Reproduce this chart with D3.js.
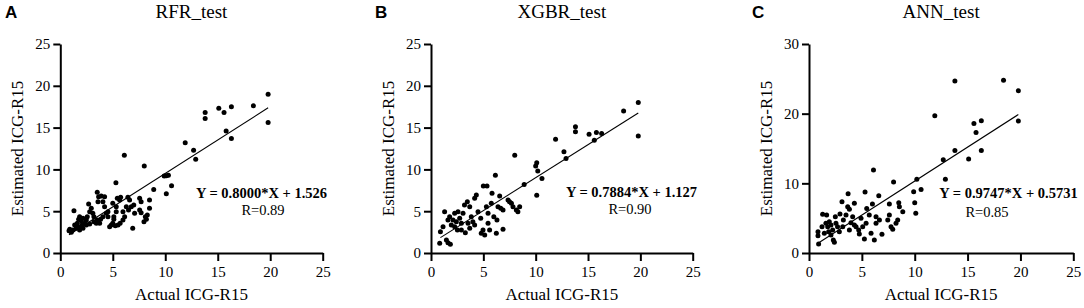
<!DOCTYPE html>
<html>
<head>
<meta charset="UTF-8">
<script src="https://d3js.org/d3.v7.min.js"></script>
<style>
    body { margin: 0; background: #fff; }
    svg text { font-family: "Liberation Serif", "Times New Roman", serif; fill: #000; }
    .letter { font-family: "Liberation Sans", Arial, sans-serif; font-weight: bold; font-size: 17px; }
    .title { font-size: 19px; }
    .axis-label { font-size: 17px; }
    .eq { font-size: 14.5px; font-weight: bold; }
    .rval { font-size: 14.5px; }
    .axis text { font-size: 15px; font-family: "Liberation Serif", "Times New Roman", serif; }
    .axis path, .axis line { stroke: #000; stroke-width: 2px; }
</style>
</head>
<body>
<svg id="chart" width="1084" height="308"></svg>
<script>
// actual vs estimated ICG-R15
const rfrPoints = [
    [19.8,19.0],[19.8,15.6],[18.4,17.6],[16.3,17.5],[15.6,16.8],[15.1,17.3],[13.8,16.8],[13.8,16.1],
    [15.8,14.6],[16.3,13.7],[11.9,13.2],[12.7,12.3],[12.9,11.2],[10.1,9.25],[10.3,9.3],[9.9,9.2],
    [10.6,8.05],[10.1,7.1],[8.9,7.6],[8.0,10.4],[6.1,11.7],[5.3,8.4],[6.9,2.95],
    [0.83,2.67],[1.05,2.47],[0.9,2.83],[1.3,5.06],[1.52,2.95],[1.62,3.55],[1.75,4.03],[1.84,4.35],
    [2.0,3.87],[2.06,3.35],[2.16,2.95],[2.32,3.55],[2.48,3.95],[2.57,4.35],[2.7,5.86],[2.8,3.47],
    [2.95,5.34],[3.1,4.74],[3.2,3.75],[3.43,3.55],[3.52,7.26],[3.65,6.74],[3.59,6.14],[3.9,6.82],
    [4.22,6.74],[4.06,6.14],[3.84,4.03],[4.06,4.35],[4.38,4.74],[4.54,4.94],[5.0,5.94],[5.1,4.35],
    [5.0,3.55],[5.1,4.03],[5.24,3.27],[5.5,3.35],[5.7,3.55],[5.97,3.95],[6.13,4.35],[5.43,6.54],
    [5.65,6.34],[5.75,6.66],[5.33,5.54],[5.33,4.94],[6.44,6.66],[6.29,5.54],[6.5,5.14],[6.76,5.54],
    [7.0,5.74],[7.56,6.54],[7.7,6.14],[7.56,5.14],[7.7,4.82],[7.97,3.75],[8.1,4.35],[8.29,4.55],
    [8.5,6.34],[8.5,5.34],[8.2,4.03],[4.22,5.54],[1.68,3.15],[1.84,2.75],[1.37,3.35],[3.2,4.35],
    [3.52,3.95],[3.75,3.55],[4.7,3.15],[4.86,3.35],[5.97,4.94],[2.8,4.94],[2.16,4.15],[2.48,3.35],
    [1.2,2.75],[7.08,4.74],[4.54,4.35],[6.6,6.34]
];
const xgbrPoints = [
    [19.8,18.0],[19.8,14.0],[18.4,17.0],[16.3,14.3],[15.8,14.4],[15.6,13.5],[15.1,14.2],[13.8,15.1],
    [13.8,14.5],[12.9,11.3],[12.7,12.1],[11.9,13.6],[8.0,11.7],[10.1,10.8],[10.0,10.4],[10.2,9.8],
    [10.6,8.9],[10.1,6.9],[8.9,8.2],[6.15,9.3],[5.0,8.0],[5.35,8.0],
    [0.9,2.55],[0.83,1.16],[1.3,4.94],[1.47,1.55],[1.62,1.24],[1.85,1.04],[1.78,4.35],[1.94,3.35],
    [2.1,3.95],[2.26,3.15],[2.42,3.75],[2.58,4.94],[2.74,4.15],[2.9,3.55],[2.52,2.75],[2.9,2.75],
    [3.06,4.74],[3.28,2.43],[3.54,3.55],[3.47,6.14],[3.7,5.54],[3.7,2.95],[3.85,4.35],[4.17,6.54],
    [4.33,6.94],[4.17,3.35],[4.49,4.94],[4.75,4.15],[4.8,2.35],[4.97,2.75],[5.13,2.15],[5.45,3.55],
    [5.29,5.54],[5.6,2.75],[5.83,7.14],[5.76,5.94],[6.0,4.35],[6.24,2.35],[6.4,5.54],[6.56,6.82],
    [6.88,2.83],[6.66,5.34],[7.36,6.34],[7.5,6.14],[7.68,5.94],[7.83,5.54],[8.15,5.14],[8.3,4.94],
    [8.47,5.54],[6.88,5.14],[5.45,4.74],[1.62,3.95],[1.15,3.15],[3.2,5.74],[2.26,4.74],[4.0,3.75],
    [6.3,3.95]
];
const annPoints = [
    [13.8,24.7],[18.4,24.8],[19.8,23.3],[19.8,18.95],[11.9,19.7],[15.6,18.6],[16.3,19.0],[15.8,17.3],
    [13.8,14.7],[16.3,14.7],[12.7,13.4],[15.1,13.5],[12.9,10.6],[10.2,10.6],[9.9,8.8],[10.6,9.1],
    [10.0,7.2],[10.1,5.7],[8.0,10.2],[6.1,11.9],[5.3,8.75],[3.7,8.5],[6.6,8.2],
    [0.85,3.06],[0.85,2.49],[0.91,1.29],[1.29,5.55],[1.67,5.45],[1.6,4.26],[1.77,3.78],[1.92,4.5],
    [2.08,4.02],[2.24,3.3],[2.3,1.87],[2.4,1.53],[2.55,4.26],[2.7,3.78],[2.87,3.06],[2.93,5.6],
    [3.12,7.37],[3.25,4.74],[3.5,5.45],[3.66,6.65],[3.82,6.27],[3.97,4.35],[4.29,7.13],[4.13,5.2],
    [4.45,3.78],[4.7,3.3],[4.76,2.73],[5.24,2.0],[5.08,3.78],[5.4,4.26],[5.46,6.4],[5.7,5.45],
    [5.87,2.82],[6.0,7.03],[6.18,1.87],[6.34,5.2],[6.34,4.26],[6.66,4.74],[6.9,2.68],[7.45,4.74],
    [7.6,7.03],[7.6,5.45],[7.76,3.78],[7.92,3.4],[8.23,4.26],[8.39,4.74],[8.49,7.22],[8.55,6.65],
    [8.87,5.93],[1.23,3.78],[1.45,2.82],[1.86,3.06],[2.49,5.2],[3.19,3.78],[3.82,3.3],[4.92,4.98],
    [4.29,4.02],[2.08,2.58]
];

// fitted lines: slope, intercept, x-range
const rfrFit = [0.8000, 1.526, 0.83, 19.8];
const xgbrFit = [0.7884, 1.127, 0.9, 19.8];
const annFit = [0.9747, 0.5731, 0.85, 19.8];

const xTicks = [0, 5, 10, 15, 20, 25];
const yTicks25 = [0, 5, 10, 15, 20, 25];
const yTicks30 = [0, 10, 20, 30];

const svg = d3.select("#chart");

const panels = [
    {letter: "A", title: "RFR_test", pts: rfrPoints, fit: rfrFit, yMax: 25, yTicks: yTicks25,
     eq: "Y = 0.8000*X + 1.526", r: "R=0.89",
     x0: 60.3, x1: 322.7, lx: 9, letterX: 5, eqX: 261.5, eqY: 198, rX: 263, rY: 215},
    {letter: "B", title: "XGBR_test", pts: xgbrPoints, fit: xgbrFit, yMax: 25, yTicks: yTicks25,
     eq: "Y = 0.7884*X + 1.127", r: "R=0.90",
     x0: 431, x1: 692.7, lx: 9, letterX: 375, eqX: 631.5, eqY: 197, rX: 630, rY: 214},
    {letter: "C", title: "ANN_test", pts: annPoints, fit: annFit, yMax: 30, yTicks: yTicks30,
     eq: "Y = 0.9747*X + 0.5731", r: "R=0.85",
     x0: 809, x1: 1073.3, lx: 9, letterX: 752, eqX: 1008.5, eqY: 198, rX: 987, rY: 217}
];

const yTop = 44, yBottom = 253;

panels.forEach(p => {
    const x = d3.scaleLinear().domain([0, 25]).range([p.x0, p.x1]);
    const y = d3.scaleLinear().domain([0, p.yMax]).range([yBottom, yTop]);
    const g = svg.append("g");

    g.append("g")
        .attr("class", "axis")
        .attr("transform", `translate(0,${yBottom})`)
        .call(d3.axisBottom(x).tickValues(xTicks).tickSize(8).tickSizeOuter(0).tickPadding(5));

    g.append("g")
        .attr("class", "axis")
        .attr("transform", `translate(${p.x0},0)`)
        .call(d3.axisLeft(y).tickValues(p.yTicks).tickSize(7).tickSizeOuter(0).tickPadding(3));

    const [m, b, fx0, fx1] = p.fit;
    g.append("line")
        .attr("x1", x(fx0)).attr("y1", y(m * fx0 + b))
        .attr("x2", x(fx1)).attr("y2", y(m * fx1 + b))
        .attr("stroke", "#000").attr("stroke-width", 1.1);

    g.selectAll("circle")
        .data(p.pts)
        .enter()
        .append("circle")
        .attr("cx", d => x(d[0]))
        .attr("cy", d => y(d[1]))
        .attr("r", 2.5)
        .attr("fill", "#000");

    g.append("text").attr("class", "letter")
        .attr("x", p.letterX).attr("y", 18).text(p.letter);

    g.append("text").attr("class", "title")
        .attr("x", (p.x0 + p.x1) / 2).attr("y", 18)
        .attr("text-anchor", "middle").text(p.title);

    g.append("text").attr("class", "axis-label")
        .attr("x", (p.x0 + p.x1) / 2).attr("y", 300)
        .attr("text-anchor", "middle").text("Actual ICG-R15");

    g.append("text").attr("class", "axis-label")
        .attr("transform", `translate(${p.x0 - 37},${(yTop + yBottom) / 2}) rotate(-90)`)
        .attr("text-anchor", "middle").text("Estimated ICG-R15");

    g.append("text").attr("class", "eq")
        .attr("x", p.eqX).attr("y", p.eqY)
        .attr("text-anchor", "middle").text(p.eq);

    g.append("text").attr("class", "rval")
        .attr("x", p.rX).attr("y", p.rY)
        .attr("text-anchor", "middle").text(p.r);
});
</script>
</body>
</html>
